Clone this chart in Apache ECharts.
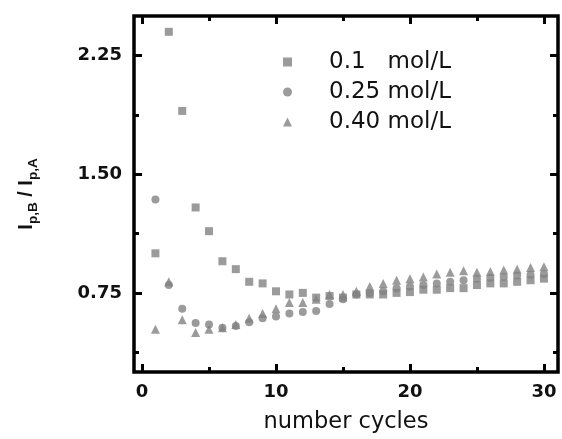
<!DOCTYPE html>
<html><head><meta charset="utf-8">
<script src="https://cdn.jsdelivr.net/npm/echarts@6/dist/echarts.min.js"></script>
<style>html,body{margin:0;padding:0;background:#fff}#c{width:562px;height:439px}</style>
</head><body><div id="c"></div>
<script>
const cycles = [1,2,3,4,5,6,7,8,9,10,11,12,13,14,15,16,17,18,19,20,21,22,23,24,25,26,27,28,29,30];
const s010 = [1.00,2.40,1.90,1.29,1.14,0.95,0.90,0.82,0.81,0.76,0.74,0.75,0.72,0.73,0.72,0.74,0.74,0.74,0.75,0.755,0.77,0.77,0.78,0.78,0.80,0.81,0.81,0.82,0.83,0.84];
const s025 = [1.34,0.80,0.65,0.56,0.55,0.53,0.54,0.565,0.59,0.60,0.62,0.63,0.635,0.68,0.71,0.74,0.75,0.76,0.78,0.79,0.80,0.81,0.82,0.83,0.84,0.845,0.85,0.86,0.865,0.87];
const s040 = [0.52,0.82,0.58,0.50,0.52,0.53,0.55,0.59,0.62,0.65,0.69,0.69,0.71,0.74,0.74,0.76,0.79,0.81,0.83,0.84,0.85,0.87,0.88,0.89,0.88,0.885,0.895,0.90,0.91,0.915];
const seriesNames = ['0.1   mol/L','0.25 mol/L','0.40 mol/L'];
const xMajor = [0,10,20,30];
const xMinor = [5,15,25];
const yMajor = [0.75,1.50,2.25];
const yMinor = [0.375,1.125,1.875];

const FONT = 'Liberation Sans, Arial, sans-serif';
const WIDE = 'DejaVu Sans, sans-serif';
const GRAY = '#828282';
function pts(ys){ return cycles.map((c,i)=>[c, ys[i]]); }
function xAx(pos, vals, len, showLabel, extra){
  return Object.assign({type:'value', position:pos, min:-0.6, max:31.05,
    axisLine:{show:false, onZero:false}, splitLine:{show:false},
    axisTick:{show:true, inside:true, length:len, customValues:vals, lineStyle:{color:'#000', width:3}},
    axisLabel:{show:showLabel, customValues:vals, color:'#111', fontFamily:WIDE, fontWeight:'bold', fontSize:18, margin:11}
  }, extra||{});
}
function yAx(pos, vals, len, showLabel, extra){
  return Object.assign({type:'value', position:pos, min:0.25, max:2.5,
    axisLine:{show:false, onZero:false}, splitLine:{show:false},
    axisTick:{show:true, inside:true, length:len, customValues:vals, lineStyle:{color:'#000', width:3}},
    axisLabel:{show:showLabel, customValues:vals, color:'#111', fontFamily:WIDE, fontWeight:'bold', fontSize:18, margin:12,
      formatter:v=>Number(v).toFixed(2)}
  }, extra||{});
}
const chart = echarts.init(document.getElementById('c'), null, {renderer:'canvas'});
chart.setOption({
  animation:false,
  backgroundColor:'#fff',
  grid:{left:134, top:16, width:424, height:357, show:true, borderColor:'#000', borderWidth:3.5, backgroundColor:'transparent'},
  xAxis:[
    xAx('bottom', xMajor, 8, true, {name:'number cycles', nameLocation:'middle', nameGap:39,
      nameTextStyle:{color:'#111', fontFamily:WIDE, fontSize:22.5}}),
    xAx('bottom', xMinor, 5, false),
    xAx('top', xMajor, 8, false),
    xAx('top', xMinor, 5, false)
  ],
  yAxis:[
    yAx('left', yMajor, 8, true, {name:'{i|I}{s|p,B}{i| / I}{s|p,A}', nameLocation:'middle', nameGap:94, nameRotate:90,
      nameTextStyle:{color:'#111', fontFamily:FONT, fontWeight:'bold', fontSize:20,
        rich:{i:{fontFamily:FONT, fontWeight:'bold', fontSize:20, color:'#111', lineHeight:24, verticalAlign:'top'},
              s:{fontFamily:FONT, fontWeight:'bold', fontSize:13.5, color:'#111', lineHeight:24, verticalAlign:'bottom', padding:[9,0,0,0]}}}}),
    yAx('left', yMinor, 5, false),
    yAx('right', yMajor, 8, false),
    yAx('right', yMinor, 5, false)
  ],
  legend:{show:true, orient:'vertical', left:278, top:44, itemWidth:9, itemHeight:9, itemGap:4,
    data:[{name:seriesNames[0], icon:'rect'},{name:seriesNames[1], icon:'circle'},{name:seriesNames[2], icon:'triangle'}],
    textStyle:{color:'#111', fontFamily:WIDE, fontSize:23, lineHeight:26, padding:[0,0,0,32]}},
  series:[
    {name:seriesNames[0], type:'scatter', data:pts(s010), symbol:'rect', symbolSize:8, itemStyle:{color:GRAY}},
    {name:seriesNames[1], type:'scatter', data:pts(s025), symbol:'circle', symbolSize:8, itemStyle:{color:GRAY}},
    {name:seriesNames[2], type:'scatter', data:pts(s040), symbol:'triangle', symbolSize:9, itemStyle:{color:GRAY}}
  ]
});
</script></body></html>
